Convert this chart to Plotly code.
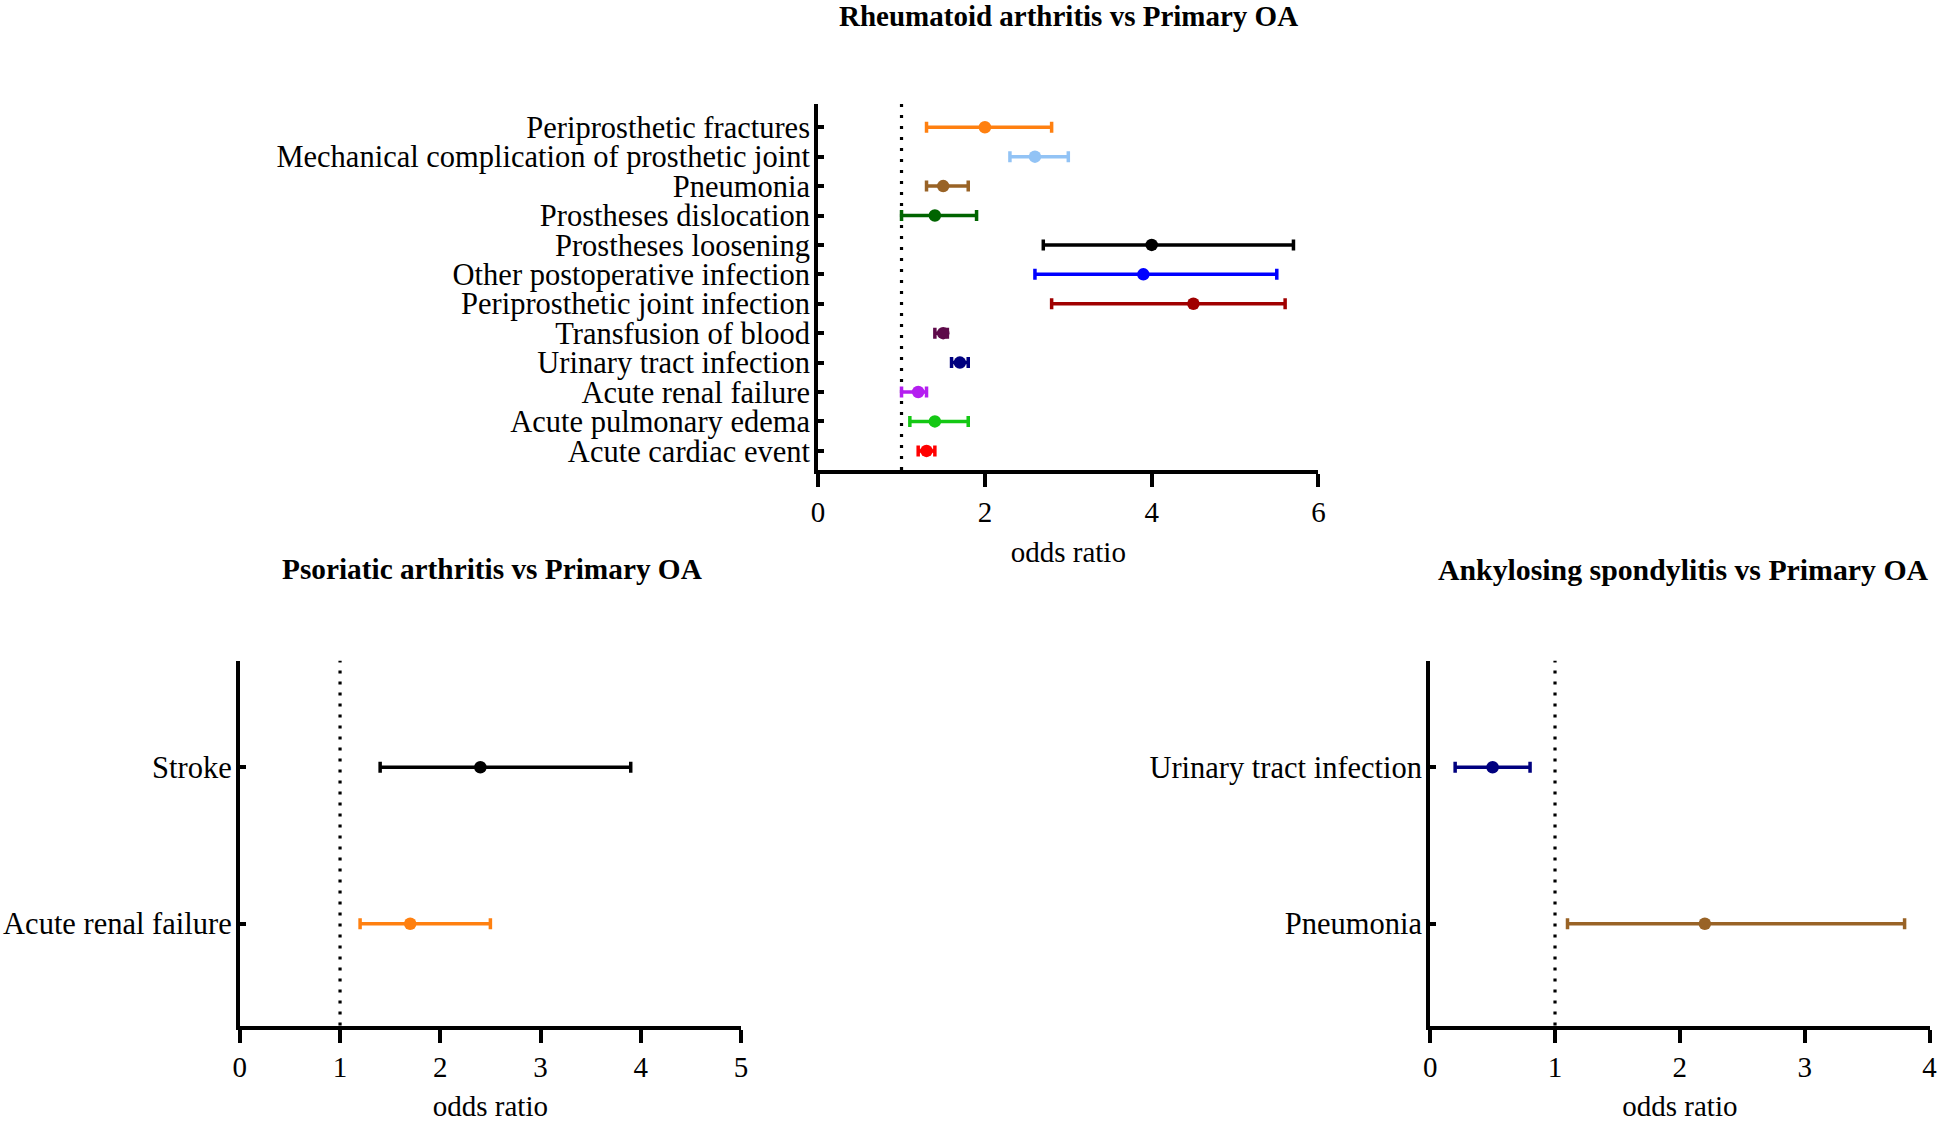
import plotly.graph_objects as go

FONT = "Liberation Serif, Times New Roman, serif"

# ---------------- Data ----------------
ra_title = "Rheumatoid arthritis vs Primary OA"
ra_categories = [
    "Periprosthetic fractures",
    "Mechanical complication of prosthetic joint",
    "Pneumonia",
    "Prostheses dislocation",
    "Prostheses loosening",
    "Other postoperative infection",
    "Periprosthetic joint infection",
    "Transfusion of blood",
    "Urinary tract infection",
    "Acute renal failure",
    "Acute pulmonary edema",
    "Acute cardiac event",
]
ra_or = [2.0, 2.6, 1.5, 1.4, 4.0, 3.9, 4.5, 1.5, 1.7, 1.2, 1.4, 1.3]
ra_lower = [1.3, 2.3, 1.3, 1.0, 2.7, 2.6, 2.8, 1.4, 1.6, 1.0, 1.1, 1.2]
ra_upper = [2.8, 3.0, 1.8, 1.9, 5.7, 5.5, 5.6, 1.55, 1.8, 1.3, 1.8, 1.4]
ra_colors = ["#FF8010", "#92C3F5", "#996326", "#006400", "#000000", "#0000FF",
             "#A00000", "#5E0A4A", "#00007F", "#B41EF0", "#14C814", "#FF0000"]
ra_ticks = [0, 2, 4, 6]

psa_title = "Psoriatic arthritis vs Primary OA"
psa_categories = ["Stroke", "Acute renal failure"]
psa_or = [2.4, 1.7]
psa_lower = [1.4, 1.2]
psa_upper = [3.9, 2.5]
psa_colors = ["#000000", "#FF8010"]
psa_ticks = [0, 1, 2, 3, 4, 5]

as_title = "Ankylosing spondylitis vs Primary OA"
as_categories = ["Urinary tract infection", "Pneumonia"]
as_or = [0.5, 2.2]
as_lower = [0.2, 1.1]
as_upper = [0.8, 3.8]
as_colors = ["#00007F", "#996326"]
as_ticks = [0, 1, 2, 3, 4]

reference_or = 1.0
x_label = "odds ratio"

# ---------------- Geometry (page pixels) ----------------
W, H = 1944, 1122


def fx(px):
    return min(1.0, max(0.0, px / W))


def fy(py):
    return min(1.0, max(0.0, 1 - py / H))


fig = go.Figure()

panels = [
    dict(cats=ra_categories, orv=ra_or, lo=ra_lower, hi=ra_upper, cols=ra_colors,
         ticks=ra_ticks, xa="x", ya="y", xdom=[fx(817), fx(1321)],
         ydom=[fy(470), fy(104)], bot_pad=0.65, top_pad=0.79),
    dict(cats=psa_categories, orv=psa_or, lo=psa_lower, hi=psa_upper, cols=psa_colors,
         ticks=psa_ticks, xa="x2", ya="y2", xdom=[fx(234.5), fx(739.3)],
         ydom=[fy(1025.5), fy(660.8)], bot_pad=0.65, top_pad=0.68),
    dict(cats=as_categories, orv=as_or, lo=as_lower, hi=as_upper, cols=as_colors,
         ticks=as_ticks, xa="x3", ya="y3", xdom=[fx(1433.5), fx(1936.5)],
         ydom=[fy(1025.5), fy(660.8)], bot_pad=0.65, top_pad=0.68),
]

layout_axes = {}
shapes = []
for p in panels:
    for c, v, lo, hi, col in zip(p["cats"], p["orv"], p["lo"], p["hi"], p["cols"]):
        fig.add_trace(go.Scatter(
            x=[v], y=[c], mode="markers",
            marker=dict(color=col, size=12.5, symbol="circle"),
            error_x=dict(type="data", symmetric=False, array=[hi - v], arrayminus=[v - lo],
                         color=col, thickness=3.5, width=5.5),
            xaxis=p["xa"], yaxis=p["ya"], showlegend=False, cliponaxis=False,
            hoverinfo="skip",
        ))
    n = len(p["cats"])
    xkey = "xaxis" if p["xa"] == "x" else "xaxis" + p["xa"][1:]
    ykey = "yaxis" if p["ya"] == "y" else "yaxis" + p["ya"][1:]
    layout_axes[xkey] = dict(
        domain=p["xdom"], anchor=p["ya"], range=[p["ticks"][0], p["ticks"][-1]],
        tickmode="array", tickvals=p["ticks"], showgrid=False, zeroline=False,
        showline=True, linecolor="black", linewidth=4,
        ticks="outside", ticklen=13, tickwidth=4, tickcolor="black",
        tickfont=dict(family=FONT, size=29, color="black"),
        title=dict(text=x_label, font=dict(family=FONT, size=29, color="black"), standoff=16),
    )
    layout_axes[ykey] = dict(
        domain=p["ydom"], anchor=p["xa"], type="category",
        categoryorder="array", categoryarray=list(reversed(p["cats"])),
        tickmode="array", tickvals=p["cats"],
        range=[-p["bot_pad"], n - 1 + p["top_pad"]],
        showgrid=False, zeroline=False,
        showline=True, linecolor="black", linewidth=4,
        ticks="inside", ticklen=6, tickwidth=4, tickcolor="black",
        ticklabelstandoff=-2,
        tickfont=dict(family=FONT, size=30.5, color="black"),
    )
    shapes.append(dict(
        type="line", xref=p["xa"], yref=p["ya"] + " domain",
        x0=reference_or, x1=reference_or, y0=0, y1=1,
        line=dict(color="black", width=3.2, dash="3px,8px"),
        layer="below",
    ))

annotations = [
    dict(text="<b>" + ra_title + "</b>", xref="paper", yref="paper",
         x=fx(1069), y=fy(16), xanchor="center", yanchor="middle",
         showarrow=False, font=dict(family=FONT, size=29, color="black")),
    dict(text="<b>" + psa_title + "</b>", xref="paper", yref="paper",
         x=fx(489), y=fy(569), xanchor="center", yanchor="middle",
         showarrow=False, font=dict(family=FONT, size=29.3, color="black")),
    dict(text="<b>" + as_title + "</b>", xref="paper", yref="paper",
         x=fx(1689), y=fy(569), xanchor="center", yanchor="middle",
         showarrow=False, font=dict(family=FONT, size=29.8, color="black")),
]

fig.update_layout(
    width=W, height=H,
    margin=dict(l=0, r=0, t=0, b=0),
    paper_bgcolor="white", plot_bgcolor="white",
    shapes=shapes, annotations=annotations,
    hovermode=False,
    **layout_axes,
)

fig.write_html(
    "out.html",
    config={"displayModeBar": False, "staticPlot": True},
    post_script="document.body.style.margin='0';document.body.style.overflow='hidden';",
)
